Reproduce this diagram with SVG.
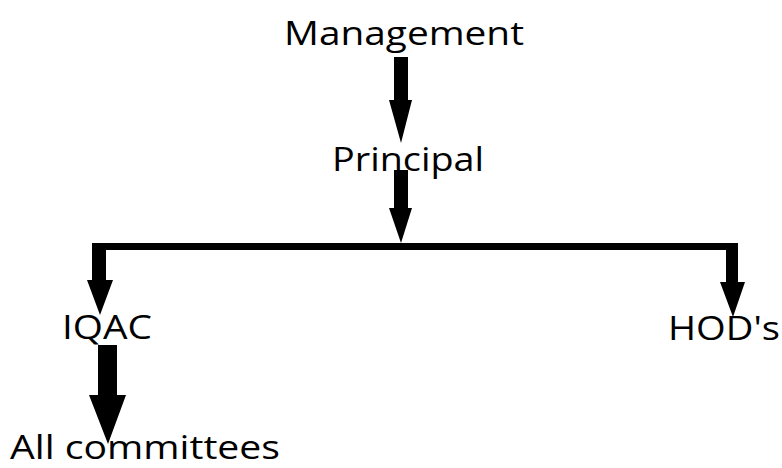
<svg xmlns="http://www.w3.org/2000/svg" width="782" height="468" viewBox="0 0 782 468">
<style>
text{font-family:"Open Sans","Noto Sans","DejaVu Sans",sans-serif;font-size:33px;fill:#000}
.a{fill:#000}
</style>
<rect width="782" height="468" fill="#fff"/>
<g id="connectors">
<polygon class="a" points="394,57 408,57 408,100 412,100 401,143 389,100 394,100"/>
<polygon class="a" points="394,170 408,170 408,208 412,208 401,243 389,208 394,208"/>
<rect class="a" x="92" y="243" width="646" height="7"/>
<polygon class="a" points="92,243 106,243 106,280 113,280 100,315 87,280 92,280"/>
<polygon class="a" points="726,243 738,243 738,282 745,282 733,317 720,282 726,282"/>
<polygon class="a" points="98,345 117,345 117,395 126,395 108,444 89,395 98,395"/>
</g>
<g id="management"><text x="284" y="45" textLength="240" lengthAdjust="spacingAndGlyphs">Management</text></g>
<g id="principal"><text x="332" y="171" textLength="152" lengthAdjust="spacingAndGlyphs">Principal</text></g>
<g id="iqac"><text x="62" y="339" textLength="90" lengthAdjust="spacingAndGlyphs">IQAC</text></g>
<g id="hods"><text x="668" y="340" textLength="112" lengthAdjust="spacingAndGlyphs">HOD's</text></g>
<g id="committees"><text x="10" y="459" textLength="270" lengthAdjust="spacingAndGlyphs">All committees</text></g>
</svg>
